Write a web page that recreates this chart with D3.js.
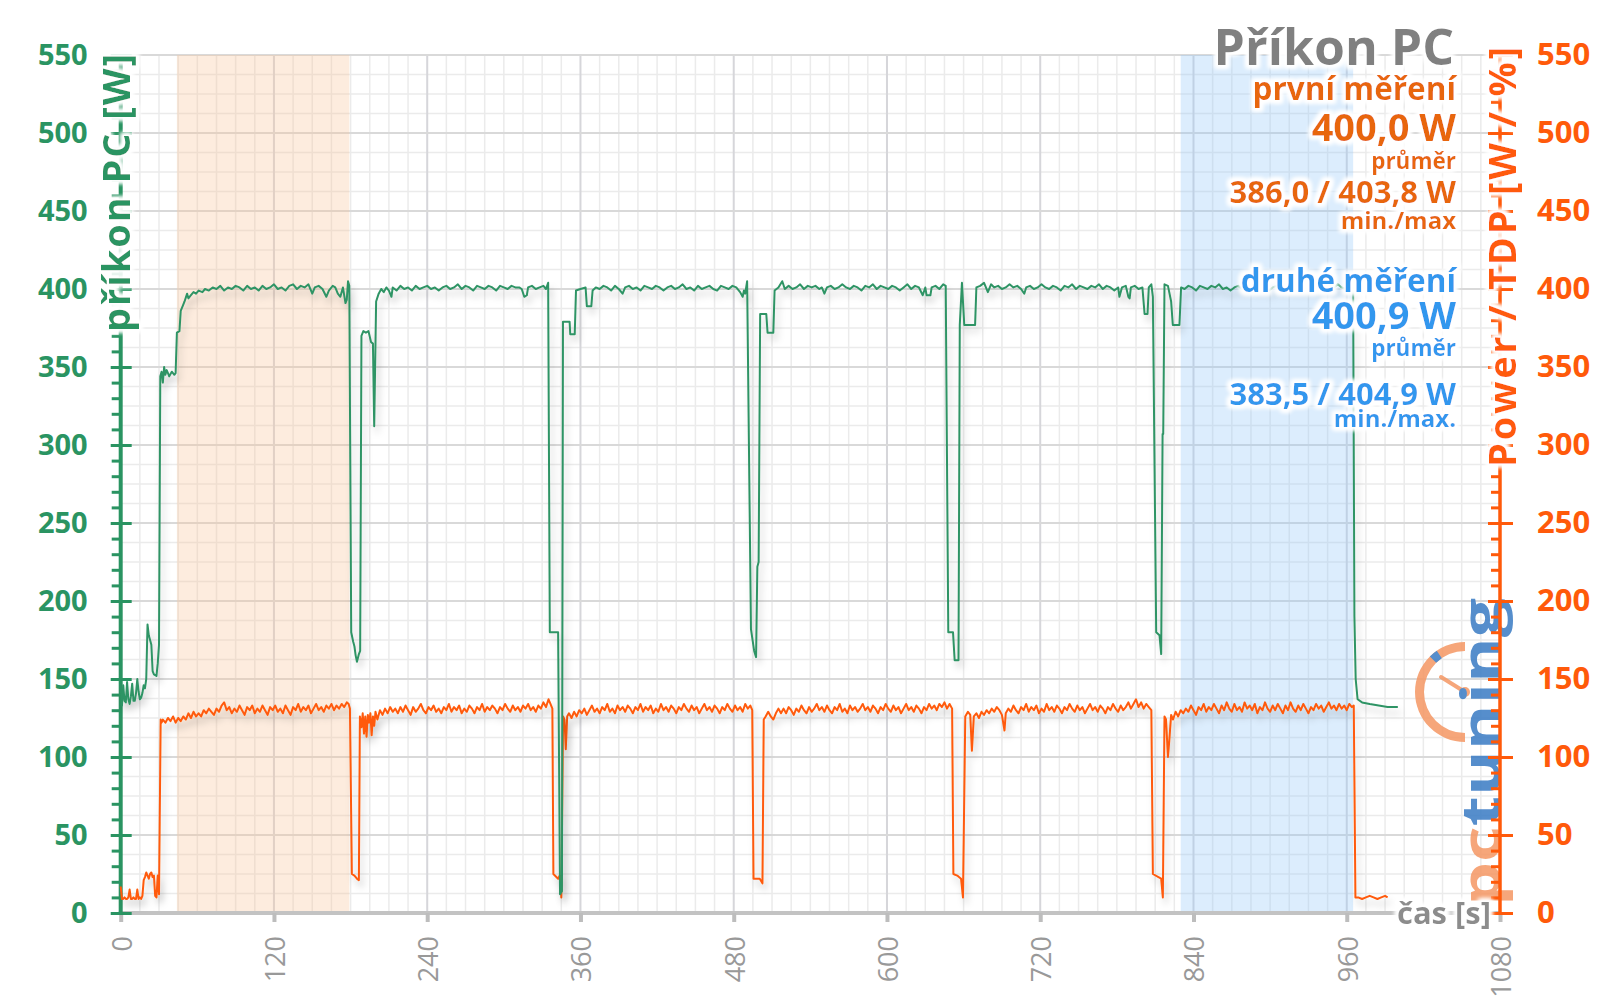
<!DOCTYPE html>
<html><head><meta charset="utf-8">
<script src="https://cdn.jsdelivr.net/npm/d3@7"></script>
<style>
html,body{margin:0;padding:0;background:#fff;}
svg{display:block;font-family:"Open Sans","Noto Sans",sans-serif;}
</style></head><body>
<svg id="chart" width="1600" height="1008"></svg>
<script>
// ---------- data ----------
const xTicks = [0,120,240,360,480,600,720,840,960,1080];
const yTicks = [0,50,100,150,200,250,300,350,400,450,500,550];
const bandFirst = [44,179];
const bandSecond = [830,965];
const titleText = "Příkon PC";
const leftAxisTitle = "příkon PC [W]";
const rightAxisTitle = "Power / TDP [W / %]";
const xAxisTitle = "čas [s]";
const legendFirst = ["první měření","400,0 W","průměr","386,0 / 403,8 W","min./max"];
const legendSecond = ["druhé měření","400,9 W","průměr","383,5 / 404,9 W","min./max."];

// green: příkon PC [W]  ([time s, W])
const greenSeries = [
[0,147],[1,133],[2,146],[3,136],[4,135],[5,148],[6,137],[7,134],[8,139],[9,147],[10,136],[11,136],[12,141],[13,150],[14,142],[15,137],[16,138],[17,141],[18,146],[19,144],[20,150],[21,185],[22,178],[24,172],[25,155],[26,153],[28,152],[29,160],[30,172],
[31,344],[32,347],[33,340],[34,350],[35,345],[36,348],[37,346],[38,344],[40,347],[42,345],[43,346],[44,372],[46,373],[47,386],[49,390],[50,392],[52,397],[53,394],[55,396],[57,398],[59,397],[61,399],[64,398],[66,400],[69,399],[72,401],[75,400],[78,402],[81,399],[84,401],[87,400],[90,402],[93,401],[96,399],[99,402],[102,400],[105,401],[108,399],[111,402],[114,400],[117,401],[120,403],[123,400],[126,401],[129,399],[132,402],[135,403],[138,400],[141,402],[144,401],[147,403],[150,397],[152,401],[155,402],[158,400],[161,395],[163,399],[166,402],[168,401],[170,397],[172,395],[174,401],[176,391],[177,393],[178,405],[179,402],
[180.5,180],[182,174],[183,171],[184,165],[185,161],[186.5,166],[187.5,168],[188.5,370],[190,373],[192,372],[194,373],[196,366],[197.5,365],[198.5,312],[200,392],[202,397],[204,400],[206,398],[208,401],[210,399],[212,395],[213,401],[216,399],[219,402],[222,400],[225,401],[228,399],[231,402],[234,400],[237,401],[240,402],[243,400],[246,401],[249,399],[252,401],[255,402],[258,400],[261,401],[264,403],[267,400],[270,402],[273,401],[276,399],[279,402],[282,401],[285,400],[288,402],[291,401],[294,399],[297,402],[300,401],[303,400],[306,402],[309,401],[312,401],[314,400],[316,395],[318,396],[319,401],[322,402],[325,400],[328,401],[331,402],[333,400],[334.7,404],
[336,180],[342.5,180],[344,12],[345.5,14],[346.3,379],[351.5,379],[352,371],[355.5,371],[356.5,399],[360,400],[364,401],[365,389],[368.5,389],[369.5,399],[372,401],[375,400],[378,402],[381,401],[384,399],[387,402],[390,400],[393,397],[395,401],[398,402],[401,400],[404,401],[407,399],[410,402],[413,401],[416,400],[419,402],[422,401],[425,399],[428,401],[431,402],[434,400],[437,401],[440,403],[443,400],[446,401],[449,399],[452,402],[455,400],[458,401],[461,402],[464,400],[467,399],[470,402],[473,401],[476,400],[479,402],[482,401],[485,398],[487,395],[488,399],[489,397],[490.5,405],
[493.5,182],[496,168],[497.5,164],[498.5,222],[499.5,225],[500.7,384],[505.5,384],[506.5,372],[511,372],[512,399],[515,401],[518,405],[520,400],[523,402],[526,400],[529,401],[532,403],[535,400],[538,402],[541,401],[544,402],[547,400],[549,401],[551,397],[553,401],[556,402],[559,400],[562,401],[565,403],[568,401],[571,400],[574,402],[577,401],[580,399],[583,402],[586,401],[589,403],[592,400],[595,402],[598,401],[601,400],[604,402],[607,401],[610,399],[613,401],[616,403],[619,400],[622,402],[625,401],[628,396],[630,401],[631,396],[634,396],[635,401],[638,402],[641,400],[644,403],[646,402],
[648,180],[651.7,180],[653,162],[656,162],[657,377],[658.7,404],[660.5,377],[662,377],[669,377],[670,401],[673,402],[676,404],[679,398],[681.5,403],[684,401],[687,402],[690,400],[693,401],[696,403],[699,401],[702,402],[705,400],[707.5,397],[709,401],[712,402],[715,400],[718,401],[721,403],[724,401],[727,400],[730,402],[733,401],[736,399],[739,402],[742,401],[745,403],[748,400],[751,402],[754,401],[757,400],[760,402],[763,401],[766,403],[769,400],[772,402],[775,401],[778,399],[781,401],[782,395],[784,401],[787,402],[789,395],[790,394],[791,401],[794,402],[797,400],[800,401],[801.7,384],[804,384],[805,401],[807,403],
[808.2,395],[810.8,180],[813.4,178],[814.7,166],[815.8,307],[816.3,307],[817.3,403],[820,402],[822.5,392],[823.8,377],[829,377],[830.3,401],[833,400],[836,402],[839,401],[842,399],[845,402],[848,401],[851,400],[854,402],[857,401],[860,403],[863,400],[866,401],[869,399],[872,401],[875,402],[878,400],[881,401],[884,403],[887,401],[890,400],[893,402],[896,401],[899,399],[902,401],[905,402],[908,400],[911,401],[914,403],[917,401],[920,400],[923,402],[926,401],[929,400],[932,402],[935,401],[938,399],[941,401],[944,402],[947,400],[950,401],[953,403],[956,401],[959,400],[962,402],[965,401],
[966,190],[967,150],[968.5,137],[972,135],[978,134],[985,133],[992,132],[1000,132]
];

// orange: Power / TDP  ([time s, value])
const orangeSeries = [
[0,17],[1,9],[2,9],[3,10],[4,9],[5,9],[6,10],[7,15],[8,9],[9,9],[10,10],[11,9],[12,9],[13,15],[14,9],[15,10],[16,9],[17,11],[18,21],[19,23],[20,26],[21,24],[22,22],[23,25],[24,26],[25,23],[26,24],[27,11],[28,10],[29,24],[30,12],[31.3,124],[32,122],
[33,124],[35,122],[37,125],[39,123],[41,126],[43,122],[45,125],[47,123],[49,126],[51,124],[53,128],[55,125],[57,129],[59,126],[61,128],[63,126],[65,130],[67,128],[69,131],[71,129],[73,127],[75,131],[77,129],[79,133],[81,135],[83,130],[85,132],[87,128],[89,131],[91,129],[93,133],[95,130],[97,127],[99,132],[101,130],[103,133],[105,128],[107,131],[109,129],[111,133],[113,130],[115,127],[117,132],[119,130],[121,133],[123,129],[125,131],[127,128],[129,133],[131,130],[133,127],[135,132],[137,130],[139,134],[141,129],[143,132],[145,130],[147,133],[149,128],[151,131],[153,134],[155,130],[157,132],[159,129],[161,133],[163,131],[165,134],[167,130],[169,133],[171,131],[173,134],[175,132],[177,135],[178.5,134],[179.5,131],
[181,25],[183,24],[185,22],[186.5,21],[187.3,126],[188.5,119],[189.5,128],[190.5,115],[191.5,126],[192.5,113],[193.5,127],[194.5,122],[195.5,128],[196.5,114],[197.5,126],[198.5,120],[199.5,129],[201,124],[203,130],[205,127],[207,131],[209,128],[211,132],[213,129],
[215,131],[217,128],[219,132],[221,129],[223,133],[225,130],[227,127],[229,132],[231,129],[233,131],[235,134],[237,130],[239,128],[241,132],[243,130],[245,133],[247,129],[249,131],[251,128],[253,132],[255,130],[257,134],[259,129],[261,132],[263,130],[265,133],[267,128],[269,131],[271,129],[273,133],[275,131],[277,128],[279,132],[281,130],[283,134],[285,129],[287,132],[289,130],[291,133],[293,131],[295,128],[297,132],[299,130],[301,134],[303,131],[305,129],[307,133],[309,130],[311,132],[313,129],[315,133],[317,131],[319,134],[321,130],[323,132],[325,129],[327,133],[329,131],[331,135],[333,132],[335,137],[336.5,134],[338,131],
[338.8,25],[342.5,22],[343.8,24],[345,10],[346.4,126],[347.5,124],[348.5,105],[349.6,126],[351,128],[353,125],[355,129],[357,126],[359,130],
[361,128],[363,131],[365,127],[367,130],[369,133],[371,129],[373,131],[375,128],[377,132],[379,130],[381,134],[383,129],[385,131],[387,128],[389,133],[391,130],[393,132],[395,129],[397,133],[399,131],[401,128],[403,132],[405,130],[407,134],[409,129],[411,132],[413,130],[415,133],[417,128],[419,131],[421,129],[423,134],[425,130],[427,132],[429,129],[431,133],[433,131],[435,128],[437,132],[439,130],[441,134],[443,131],[445,129],[447,133],[449,130],[451,132],[453,128],[455,131],[457,134],[459,130],[461,132],[463,129],[465,133],[467,131],[469,128],[471,132],[473,130],[475,134],[477,131],[479,129],[481,133],[483,130],[485,132],[487,129],[489,134],[491,131],[493,133],[494.5,130],
[495.5,22],[500.4,22],[502.5,19],[503.5,124],[505,126],[507,129],[509,126],[511,124],[513,128],[515,131],[517,128],
[519,131],[521,128],[523,132],[525,130],[527,127],[529,131],[531,129],[533,133],[535,130],[537,128],[539,132],[541,129],[543,131],[545,134],[547,130],[549,132],[551,129],[553,133],[555,130],[557,128],[559,132],[561,130],[563,134],[565,129],[567,131],[569,128],[571,133],[573,130],[575,132],[577,129],[579,131],[581,134],[583,130],[585,132],[587,129],[589,133],[591,131],[593,128],[595,132],[597,130],[599,134],[601,131],[603,129],[605,133],[607,130],[609,132],[611,128],[613,131],[615,134],[617,130],[619,132],[621,129],[623,133],[625,131],[627,128],[629,132],[631,130],[633,134],[635,131],[637,133],[639,130],[641,134],[643,132],[645,135],[647,131],[649,134],[651,131],
[652,25],[655,24],[658,22],[659.5,10],[661.3,126],[663.4,129],[665.2,127],[666.5,104],[668,126],[670,128],[672,125],[674,129],[676,127],[678,130],
[680,128],[682,131],[684,129],[686,132],[688,130],[690,127],[692,117],[693,128],[695,131],[697,129],[699,133],[701,130],[703,128],[705,132],[707,130],[709,134],[711,129],[713,132],[715,130],[717,133],[719,128],[721,131],[723,129],[725,134],[727,130],[729,132],[731,129],[733,133],[735,131],[737,128],[739,132],[741,130],[743,134],[745,131],[747,129],[749,133],[751,130],[753,132],[755,128],[757,131],[759,134],[761,130],[763,132],[765,129],[767,133],[769,131],[771,128],[773,132],[775,130],[777,134],[779,131],[781,129],[783,133],[785,130],[787,132],[789,135],[791,131],[793,134],[795,137],[797,132],[799,135],[801,131],[803,134],[805,132],[807,130],
[808.2,25],[814.7,22],[816,10],[817.3,126],[818.5,124],[820,100],[821,110],[822.5,127],[824,124],[826,129],[828,126],[830,130],
[832,128],[834,131],[836,129],[838,133],[840,130],[842,127],[844,132],[846,130],[848,134],[850,129],[852,132],[854,130],[856,134],[858,131],[860,128],[862,133],[864,130],[866,135],[868,131],[870,129],[872,134],[874,130],[876,132],[878,129],[880,135],[882,131],[884,133],[886,130],[888,134],[890,128],[892,132],[894,130],[896,135],[898,131],[900,129],[902,133],[904,130],[906,134],[908,131],[910,128],[912,133],[914,130],[916,135],[918,131],[920,129],[922,133],[924,130],[926,134],[928,131],[930,128],[932,132],[934,130],[936,134],[938,131],[940,133],[942,129],[944,132],[946,135],[948,131],[950,133],[952,130],[954,134],[956,131],[958,133],[960,130],[962,134],[964,132],[965.5,133],
[966.8,10],[969,10],[972,9],[975,10],[978,11],[981,10],[984,9],[987,10],[990,11],[992,10]
];

// ---------- drawing ----------
const svg = d3.select("#chart");
const W = 1600, H = 1008;
const x = d3.scaleLinear().domain([0,1080]).range([120.7,1500]);
const y = d3.scaleLinear().domain([0,550]).range([913,55]);

const GREEN = "#2a9462", GREEN_LINE = "#2f9465", ORANGE = "#ff5a0a", ORANGE_TXT = "#e8660f", BLUE = "#3297ee", GRAY = "#808080";

const defs = svg.append("defs");
const halo = defs.append("filter").attr("id","halo").attr("x","-20%").attr("y","-40%").attr("width","140%").attr("height","180%");
halo.append("feMorphology").attr("in","SourceAlpha").attr("operator","dilate").attr("radius",3).attr("result","d");
halo.append("feGaussianBlur").attr("in","d").attr("stdDeviation",2).attr("result","b");
halo.append("feFlood").attr("flood-color","#ffffff").attr("result","f");
halo.append("feComposite").attr("in","f").attr("in2","b").attr("operator","in").attr("result","w");
const hm = halo.append("feMerge");
hm.append("feMergeNode").attr("in","w");
hm.append("feMergeNode").attr("in","w");
hm.append("feMergeNode").attr("in","SourceGraphic");

const shadow = defs.append("filter").attr("id","shadow").attr("x","-3%").attr("y","-5%").attr("width","106%").attr("height","115%");
shadow.append("feDropShadow").attr("dx",3).attr("dy",6).attr("stdDeviation",3.5).attr("flood-color","#000").attr("flood-opacity",0.2);

svg.append("rect").attr("width",W).attr("height",H).attr("fill","#fff");

// grid
const grid = svg.append("g");
const minorX = d3.range(0,1081,15).filter(d=>d%120!==0);
const minorY = d3.range(0,551,12.5).filter(d=>d%50!==0);
grid.selectAll(".mx").data(minorX).join("line")
  .attr("x1",d=>x(d)).attr("x2",d=>x(d)).attr("y1",y(550)).attr("y2",y(0))
  .attr("stroke","#ebebeb").attr("stroke-width",1.5);
grid.selectAll(".my").data(minorY).join("line")
  .attr("x1",x(0)).attr("x2",x(1080)).attr("y1",d=>y(d)).attr("y2",d=>y(d))
  .attr("stroke","#ebebeb").attr("stroke-width",1.5);
grid.selectAll(".Mx").data(xTicks).join("line")
  .attr("x1",d=>x(d)).attr("x2",d=>x(d)).attr("y1",y(550)).attr("y2",y(0))
  .attr("stroke","#d6d6da").attr("stroke-width",2);
grid.selectAll(".My").data(yTicks).join("line")
  .attr("x1",x(0)).attr("x2",x(1080)).attr("y1",d=>y(d)).attr("y2",d=>y(d))
  .attr("stroke","#d9d9d9").attr("stroke-width",2);

// bands
svg.append("rect").attr("x",x(bandFirst[0])).attr("width",x(bandFirst[1])-x(bandFirst[0]))
  .attr("y",y(550)).attr("height",y(0)-y(550)).attr("fill","rgb(250,197,155)").attr("opacity",0.33);
svg.append("rect").attr("x",x(bandSecond[0])).attr("width",x(bandSecond[1])-x(bandSecond[0]))
  .attr("y",y(550)).attr("height",y(0)-y(550)).attr("fill","rgb(150,200,250)").attr("opacity",0.33);

// watermark logo
const logo = svg.append("g").attr("opacity",0.88);
const cx = 1465, cy = 692;
logo.append("path").attr("transform",`translate(${cx},${cy})`)
  .attr("d", d3.arc()({innerRadius:41, outerRadius:50, startAngle:Math.PI, endAngle:2*Math.PI}))
  .attr("fill","#f59a68");
logo.append("path").attr("transform",`translate(${cx},${cy})`)
  .attr("d", d3.arc()({innerRadius:41, outerRadius:50, startAngle:2*Math.PI-0.78, endAngle:2*Math.PI-0.6}))
  .attr("fill","#3f7fc6");
logo.append("line").attr("x1",cx-24).attr("y1",cy-15).attr("x2",cx).attr("y2",cy)
  .attr("stroke","#f59a68").attr("stroke-width",4).attr("stroke-linecap","round");
logo.append("circle").attr("cx",cx).attr("cy",cy).attr("r",5).attr("fill","#f59a68");
const lt = logo.append("text").attr("transform","translate(1500,906) rotate(-90)")
  .attr("font-size",53).attr("font-weight",700).attr("textLength",308).attr("lengthAdjust","spacingAndGlyphs");
lt.append("tspan").attr("fill","#f59a68").text("pc");
lt.append("tspan").attr("fill","#3f7fc6").text("tuning");

// bottom axis
const gx = svg.append("g").attr("transform",`translate(0,${y(0)})`);
gx.append("line").attr("x1",x(0)-2).attr("x2",x(1080)).attr("stroke","#c3c3c3").attr("stroke-width",4);
const xAxis = d3.axisBottom(x).tickValues(xTicks).tickSize(9).tickFormat(d3.format("d"));
const gxa = gx.append("g").call(xAxis);
gxa.select(".domain").remove();
gxa.selectAll(".tick line").attr("stroke","#bdbdbd").attr("stroke-width",4);
gxa.selectAll(".tick text").attr("y",0).attr("dy",0)
  .attr("transform","translate(0,23) rotate(-90)")
  .attr("text-anchor","end").attr("dominant-baseline","central")
  .attr("font-size",27).attr("fill","#999").attr("font-family","'Open Sans',sans-serif");

// left axis
const gl = svg.append("g").attr("transform",`translate(${x(0)},0)`);
gl.append("line").attr("y1",y(0)+2).attr("y2",y(550)).attr("stroke",GREEN).attr("stroke-width",4);
const gla = gl.append("g").call(d3.axisLeft(y).tickValues(yTicks).tickSize(10).tickPadding(23).tickFormat(d3.format("d")));
gla.select(".domain").remove();
gla.selectAll(".tick line").attr("stroke",GREEN).attr("stroke-width",3).attr("x2",-10).attr("x1",11);
gla.selectAll(".tick text").attr("font-size",29).attr("font-weight",700).attr("fill",GREEN).attr("font-family","'Open Sans',sans-serif");
const glm = gl.append("g").call(d3.axisLeft(y).tickValues(d3.range(0,551,10).filter(d=>d%50!==0)).tickSize(9).tickFormat(""));
glm.select(".domain").remove();
glm.selectAll(".tick line").attr("stroke",GREEN).attr("stroke-width",3);

// right axis
const gr = svg.append("g").attr("transform",`translate(${x(1080)},0)`);
gr.append("line").attr("y1",y(0)+2).attr("y2",y(550)).attr("stroke",ORANGE).attr("stroke-width",3.5);
const gra = gr.append("g").call(d3.axisRight(y).tickValues(yTicks).tickSize(13).tickPadding(24).tickFormat(d3.format("d")));
gra.select(".domain").remove();
gra.selectAll(".tick line").attr("stroke",ORANGE).attr("stroke-width",3).attr("x1",-12);
gra.selectAll(".tick text").attr("font-size",31).attr("font-weight",700).attr("fill",ORANGE).attr("font-family","'Open Sans',sans-serif");
const grm = gr.append("g").call(d3.axisLeft(y).tickValues(d3.range(0,551,10).filter(d=>d%50!==0)).tickSize(9).tickFormat(""));
grm.select(".domain").remove();
grm.selectAll(".tick line").attr("stroke",ORANGE).attr("stroke-width",3);

// lines
const line = d3.line().x(d=>x(d[0])).y(d=>y(d[1]));
svg.append("path").datum(orangeSeries).attr("d",line).attr("fill","none")
  .attr("stroke",ORANGE).attr("stroke-width",2).attr("stroke-linejoin","round").attr("filter","url(#shadow)");
svg.append("path").datum(greenSeries).attr("d",line).attr("fill","none")
  .attr("stroke",GREEN_LINE).attr("stroke-width",2).attr("stroke-linejoin","round").attr("filter","url(#shadow)");

// texts
const T = svg.append("g").attr("filter","url(#halo)").attr("font-weight",700);
T.append("text").attr("transform",`translate(115,54) rotate(-90)`).attr("text-anchor","end")
  .attr("dominant-baseline","central").attr("font-size",38).attr("fill",GREEN)
  .attr("textLength",278).attr("lengthAdjust","spacing").text(leftAxisTitle);
T.append("text").attr("transform",`translate(1501,47) rotate(-90)`).attr("text-anchor","end")
  .attr("dominant-baseline","central").attr("font-size",38).attr("fill",ORANGE)
  .attr("textLength",420).attr("lengthAdjust","spacing").text(rightAxisTitle);
T.append("text").attr("x",1491).attr("y",924).attr("text-anchor","end")
  .attr("font-size",31).attr("fill","#8c8c8c").text(xAxisTitle);

const RX = 1456;
T.append("text").attr("x",RX-2).attr("y",65).attr("text-anchor","end").attr("font-size",50).attr("fill",GRAY).text(titleText);
const sizes = [31.5,38,22.5,31,24];
const firstY = [100,141,169,203,229];
const secondY = [292,329,356,405,427];
legendFirst.forEach((s,i)=>T.append("text").attr("x",RX).attr("y",firstY[i]).attr("text-anchor","end")
  .attr("font-size",sizes[i]).attr("fill",ORANGE_TXT).text(s));
legendSecond.forEach((s,i)=>T.append("text").attr("x",RX).attr("y",secondY[i]).attr("text-anchor","end")
  .attr("font-size",sizes[i]).attr("fill",BLUE).text(s));
</script>
</body></html>
